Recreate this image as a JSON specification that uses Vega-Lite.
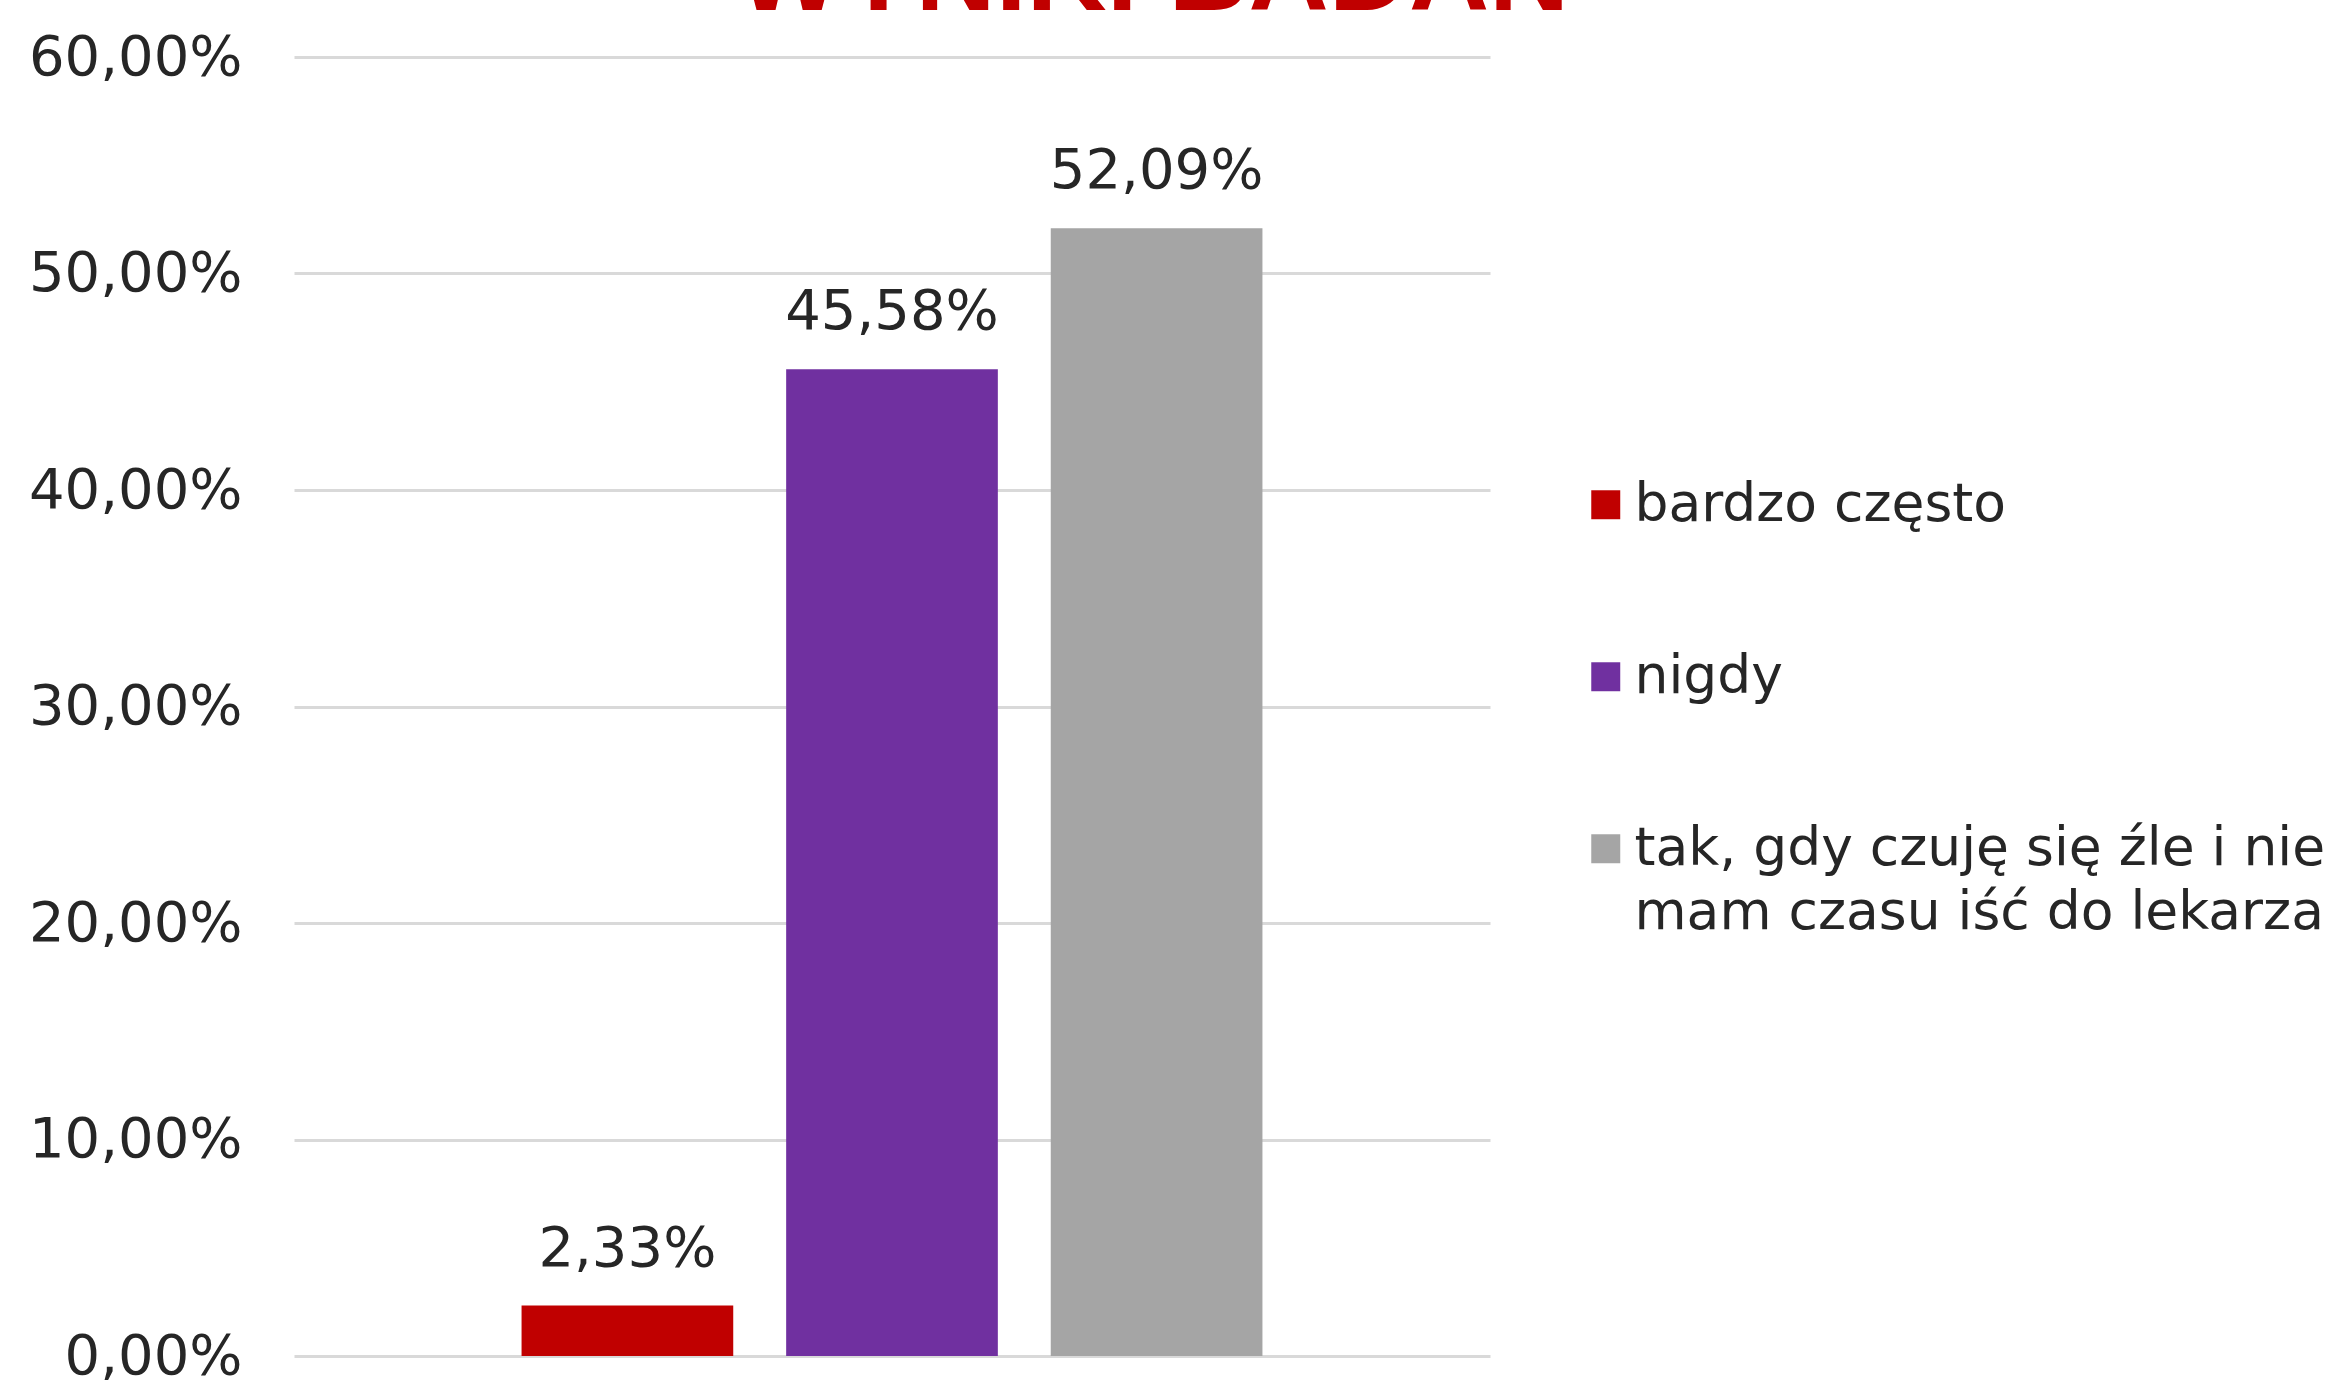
{
  "$schema": "https://vega.github.io/schema/vega-lite/v6.json",
  "width": 1196,
  "height": 1299,
  "autosize": {"type": "none"},
  "padding": {"left": 294, "top": 57, "right": 851, "bottom": 28},
  "background": "white",
  "config": {
    "view": {"stroke": null},
    "locale": {"number": {"decimal": ",", "thousands": " ", "grouping": [3], "currency": ["", " zł"]}},
    "style": {"guide-label": {"lineHeight": 64}}
  },
  "title": {
    "text": "WYNIKI BADAŃ",
    "font": "Liberation Sans",
    "fontSize": 111,
    "fontWeight": "bold",
    "color": "#C00000",
    "anchor": "middle",
    "frame": "group",
    "dx": 261,
    "baseline": "alphabetic",
    "offset": -92
  },
  "data": {
    "values": [
      {"kategoria": "bardzo często", "wartosc": 0.0233},
      {"kategoria": "nigdy", "wartosc": 0.4558},
      {"kategoria": "tak, gdy czuję się źle i nie mam czasu iść do lekarza", "wartosc": 0.5209}
    ]
  },
  "encoding": {
    "x": {
      "field": "kategoria",
      "type": "nominal",
      "sort": null,
      "axis": null,
      "scale": {"paddingInner": 0.2, "paddingOuter": 0.86}
    },
    "y": {
      "field": "wartosc",
      "type": "quantitative",
      "scale": {"domain": [0, 0.6]},
      "axis": {
        "title": null,
        "values": [0, 0.1, 0.2, 0.3, 0.4, 0.5, 0.6],
        "format": ".2%",
        "domain": false,
        "ticks": false,
        "grid": true,
        "gridColor": "#D9D9D9",
        "gridWidth": 3,
        "labelFont": "DejaVu Sans",
        "labelFontSize": 56,
        "labelColor": "#262626",
        "labelPadding": 52,
        "labelLimit": 500
      }
    }
  },
  "layer": [
    {
      "mark": {"type": "bar"},
      "encoding": {
        "color": {
          "field": "kategoria",
          "type": "nominal",
          "sort": null,
          "scale": {"range": ["#C00000", "#7030A0", "#A5A5A5"]},
          "legend": {
            "title": null,
            "orient": "none",
            "legendX": 1285,
            "legendY": 421,
            "padding": 0,
            "symbolType": "square",
            "symbolSize": 840,
            "symbolStrokeWidth": 0,
            "labelFont": "DejaVu Sans",
            "labelFontSize": 53.5,
            "labelColor": "#262626",
            "labelOffset": 2,
            "labelLimit": 1000,
            "rowPadding": 117,
            "labelExpr": "datum.label == 'tak, gdy czuję się źle i nie mam czasu iść do lekarza' ? ['tak, gdy czuję się źle i nie', 'mam czasu iść do lekarza'] : datum.label"
          }
        }
      }
    },
    {
      "mark": {
        "type": "text",
        "baseline": "alphabetic",
        "dy": -40,
        "font": "DejaVu Sans",
        "fontSize": 56,
        "color": "#262626"
      },
      "encoding": {
        "text": {"field": "wartosc", "type": "quantitative", "format": ".2%"}
      }
    }
  ]
}
